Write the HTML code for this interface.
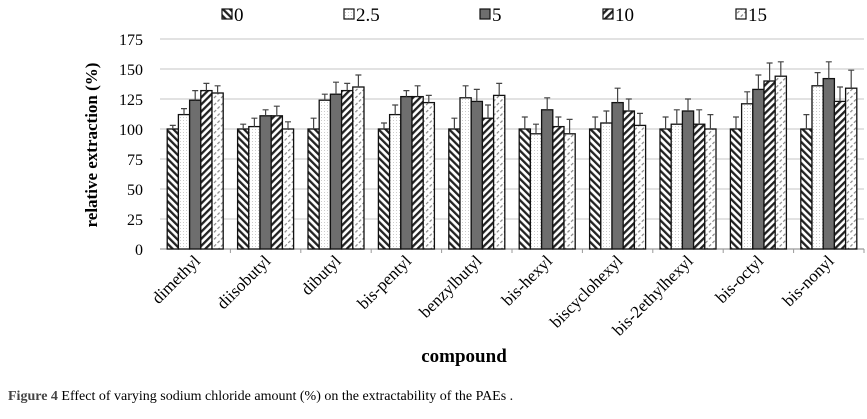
<!DOCTYPE html>
<html><head><meta charset="utf-8"><style>
body{margin:0;background:#fff;}
svg text{font-family:"Liberation Serif",serif;}
</style></head><body>
<svg width="867" height="414" xmlns="http://www.w3.org/2000/svg">
<defs>
<pattern id="p0" width="5" height="5" patternUnits="userSpaceOnUse" patternTransform="rotate(-45)"><rect width="5" height="5" fill="#fff"/><rect width="2.3" height="5" fill="#222"/></pattern>
<pattern id="p1" width="3" height="3" patternUnits="userSpaceOnUse"><rect width="3" height="3" fill="#fff"/><rect width="1" height="1" fill="#ccc"/></pattern>
<pattern id="p3" width="5" height="5" patternUnits="userSpaceOnUse" patternTransform="rotate(45)"><rect width="5" height="5" fill="#fff"/><rect width="2.3" height="5" fill="#222"/></pattern>
<pattern id="p4" width="5" height="5" patternUnits="userSpaceOnUse" patternTransform="rotate(45)"><rect width="5" height="5" fill="#fff"/><rect width="1.2" height="3" fill="#888"/></pattern>
</defs>
<g id="grid"></g><g id="bars"></g><g id="labels"></g>
<text x="97" y="145" transform="rotate(-90 97 145)" text-anchor="middle" font-size="17" font-weight="bold">relative extraction (%)</text>
<text x="464" y="362" text-anchor="middle" font-size="19" font-weight="bold">compound</text>
<text x="8" y="400" font-size="14"><tspan font-weight="bold" fill="#444">Figure 4</tspan>  Effect of varying sodium chloride amount (%) on the extractability of the PAEs .</text>
<g id="legend"></g>
</svg>
<script>
const categories=["dimethyl","diisobutyl","dibutyl","bis-pentyl","benzylbutyl","bis-hexyl","biscyclohexyl","bis-2ethylhexyl","bis-octyl","bis-nonyl"];
const seriesNames=["0","2.5","5","10","15"];
const s0=[100,100,100,100,100,100,100,100,100,100];
const s25=[112,102,124,112,126,96,105,104,121,136];
const s5=[124,111,129,127,123,116,122,115,133,142];
const s10=[132,111,132,127,109,102,115,104,140,123];
const s15=[130,100,135,122,128,96,103,100,144,134];
const e0=[3,4,9,5,9,10,10,10,10,12];
const e25=[5,7,5,8,10,8,10,12,10,11];
const e5=[8,5,10,5,10,10,12,10,12,14];
const e10=[6,8,6,9,11,8,10,12,15,12];
const e15=[6,6,10,6,10,12,10,12,12,15];
const yTicks=[0,25,50,75,100,125,150,175];
const series=[s0,s25,s5,s10,s15], errs=[e0,e25,e5,e10,e15];
const fills=["url(#p0)","url(#p1)","#6e6e6e","url(#p3)","url(#p4)"];
const NS="http://www.w3.org/2000/svg";
const x0=160,gw=70.4,y0=249,ppu=1.2;
const Y=v=>y0-v*ppu;
function mk(t,a,p){const e=document.createElementNS(NS,t);for(const k in a)e.setAttribute(k,a[k]);p.appendChild(e);return e;}
const G=document.getElementById('grid'),B=document.getElementById('bars'),L=document.getElementById('labels'),LG=document.getElementById('legend');
yTicks.forEach(v=>{
 const l=mk('line',{x1:x0,x2:864,y1:Y(v),y2:Y(v),stroke:v?"#d0d0d0":"#999","stroke-width":1.2},G);
 
 
 const t=mk('text',{x:143,y:Y(v)+6,"text-anchor":"end","font-size":16},G);t.textContent=v;
 
 
});
categories.forEach((c,i)=>{
 const tk=mk('line',{x1:x0+gw*(i+1),x2:x0+gw*(i+1),y1:y0,y2:y0+4,stroke:"#999"},G);
 
 
 const bw=11.2,start=x0+gw*i+(gw-5*bw)/2;
 series.forEach((s,j)=>{
  const v=s[i],x=start+j*bw;
  const r=mk('rect',{x:x,y:Y(v),width:bw,height:v*ppu,fill:fills[j],stroke:"#111","stroke-width":1.3},B);
  
  
  const e=errs[j][i],cx=x+bw/2;
  const eb=mk('path',{d:`M${cx},${Y(v)} V${Y(v+e)} M${cx-3},${Y(v+e)} H${cx+3}`,stroke:"#444","stroke-width":1.2,fill:"none"},B);
  
  
 });
 const cx=x0+gw*i+gw/2+6,cy=262;
 const t=mk('text',{x:cx,y:cy,"text-anchor":"end","font-size":17,transform:`rotate(-45 ${cx} ${cy})`},L);
 t.textContent=c;
 
 
});
const lx=[222,344,480,603,736];
seriesNames.forEach((n,j)=>{
 const r=mk('rect',{x:lx[j],y:9,width:10,height:10,fill:fills[j],stroke:"#111","stroke-width":1.2},LG);
 
 
 const t=mk('text',{x:lx[j]+12,y:21,"font-size":19},LG);t.textContent=n;
 
 
});
</script>
</body></html>
